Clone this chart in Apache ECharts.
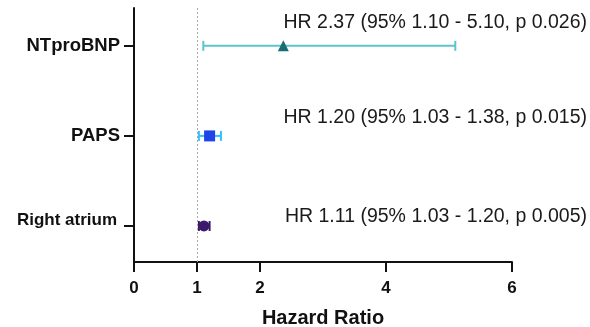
<!DOCTYPE html>
<html>
<head>
<meta charset="utf-8">
<script src="https://cdn.jsdelivr.net/npm/echarts@6/dist/echarts.min.js"></script>
<style>
  html, body { margin: 0; padding: 0; background: #fff; }
  #chart { width: 590px; height: 327px; }
</style>
</head>
<body>
<div id="chart"></div>
<script>
// data
const rowNames = ["Right atrium", "PAPS", "NTproBNP"]   // bottom to top
const rowPos = [1, 2, 3]
const hr = [1.11, 1.20, 2.37]
const ciLow = [1.03, 1.03, 1.10]
const ciHigh = [1.20, 1.38, 5.10]
const pValues = ["0.005", "0.015", "0.026"]
const xTicks = [0, 1, 2, 4, 6]

// styles per row
const markerShape = ["circle", "rect", "triangle"]
const markerColor = ["#3b1a6e", "#1f45e6", "#1a6d75"]
const barColor = ["#3b1a6e", "#30c2fb", "#5cc5cc"]
const markerSize = [11, 11, 11]
const noteTop = [215, 116.5, 21]

const chart = echarts.init(document.getElementById("chart"))

const fontBold = { fontFamily: "Liberation Sans, Arial", fontWeight: "bold", color: "#111" }

// error bar series (custom)
const errSeries = {
  type: "custom",
  z: 3,
  data: rowPos.map((y, i) => [ciLow[i], ciHigh[i], y, i]),
  renderItem: (params, api) => {
    const i = api.value(3)
    const p1 = api.coord([api.value(0), api.value(2)])
    const p2 = api.coord([api.value(1), api.value(2)])
    const cap = 5
    const st = { stroke: barColor[i], lineWidth: 2 }
    return {
      type: "group",
      children: [
        { type: "line", shape: { x1: p1[0], y1: p1[1], x2: p2[0], y2: p2[1] }, style: st },
        { type: "line", shape: { x1: p1[0], y1: p1[1] - cap, x2: p1[0], y2: p1[1] + cap }, style: st },
        { type: "line", shape: { x1: p2[0], y1: p2[1] - cap, x2: p2[0], y2: p2[1] + cap }, style: st }
      ]
    }
  }
}

// point estimates
const pointSeries = rowPos.map((y, i) => ({
  type: "scatter",
  z: 4,
  symbol: markerShape[i],
  symbolSize: markerSize[i],
  itemStyle: { color: markerColor[i], opacity: 1 },
  data: [[hr[i], y]]
}))

// reference line at HR = 1
const refSeries = {
  type: "line",
  data: [],
  markLine: {
    silent: true,
    symbol: "none",
    label: { show: false },
    lineStyle: { color: "#aaa", type: [2, 2], width: 1 },
    data: [{ xAxis: 1 }]
  }
}

// HR text notes
const notes = rowPos.map((y, i) => ({
  type: "text",
  right: 3,
  top: noteTop[i] - 8.5,
  style: {
    text: "HR " + hr[i].toFixed(2) + " (95% " + ciLow[i].toFixed(2) + " - " + ciHigh[i].toFixed(2) + ", p " + pValues[i] + ")",
    fontFamily: "Liberation Sans, Arial",
    fontSize: 19.5,
    fill: "#1a1a1a"
  }
}))

chart.setOption({
  animation: false,
  grid: { left: 134, right: 78, top: 8, bottom: 65, outerBoundsMode: "none" },
  graphic: notes,
  xAxis: {
    type: "value",
    min: 0,
    max: 6,
    interval: 1,
    name: "Hazard Ratio",
    nameLocation: "middle",
    nameGap: 46,
    nameTextStyle: Object.assign({ fontSize: 20 }, fontBold),
    axisLine: { lineStyle: { color: "#111", width: 2 } },
    axisTick: { show: true, length: 10, lineStyle: { color: "#111", width: 2 }, customValues: xTicks },
    axisLabel: Object.assign({ fontSize: 17, margin: 18, customValues: xTicks }, fontBold),
    splitLine: { show: false }
  },
  yAxis: {
    type: "value",
    min: 0.6,
    max: 3.42,
    axisLine: { show: true, lineStyle: { color: "#111", width: 2 } },
    axisTick: { show: true, length: 10, lineStyle: { color: "#111", width: 2 }, customValues: rowPos },
    axisLabel: Object.assign({
      fontSize: 18.5,
      margin: 14,
      customValues: rowPos,
      formatter: v => {
        const name = rowNames[rowPos.indexOf(v)] || ""
        return v === 1 ? "{s|" + name + "}" : name
      },
      rich: { s: Object.assign({ fontSize: 17, padding: [0, 3, 12, 0] }, fontBold) }
    }, fontBold),
    splitLine: { show: false }
  },
  series: [refSeries, errSeries].concat(pointSeries)
})
</script>
</body>
</html>
